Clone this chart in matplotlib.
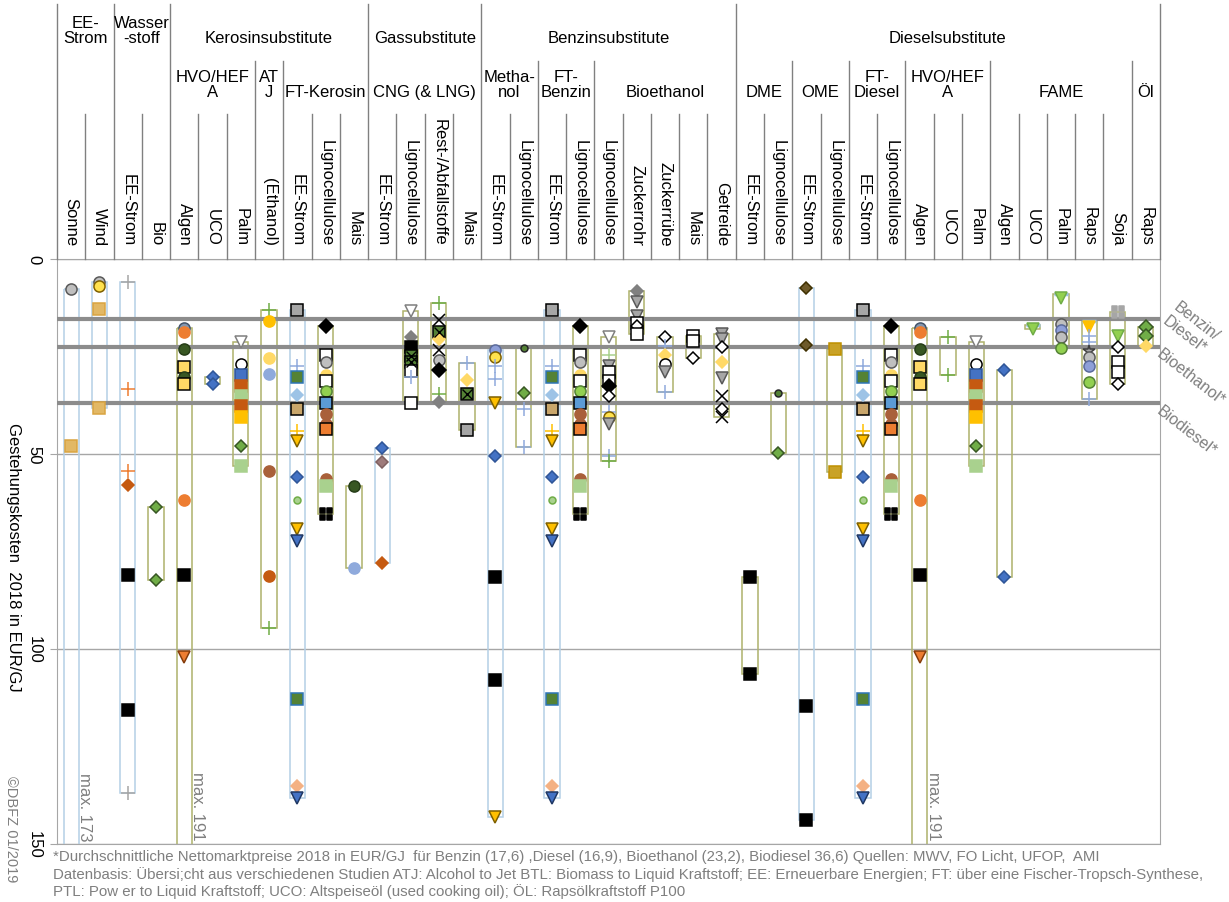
import matplotlib.pyplot as plt
from matplotlib.patches import Rectangle
from matplotlib.path import Path

plt.rcParams['font.family'] = ['Liberation Sans', 'DejaVu Sans']

# ---- header structure ----
top_groups = [("EE-\nStrom", 2), ("Wasser\n-stoff", 2), ("Kerosinsubstitute", 7),
              ("Gassubstitute", 4), ("Benzinsubstitute", 9), ("Dieselsubstitute", 15)]
mid_groups = [("", 2), ("", 2), ("HVO/HEF\nA", 3), ("AT\nJ", 1), ("FT-Kerosin", 3),
              ("CNG (& LNG)", 4), ("Metha-\nnol", 2), ("FT-\nBenzin", 2), ("Bioethanol", 5),
              ("DME", 2), ("OME", 2), ("FT-\nDiesel", 2), ("HVO/HEF\nA", 3), ("FAME", 5), ("Öl", 1)]
leaf_labels = ["Sonne", "Wind", "EE-Strom", "Bio", "Algen", "UCO", "Palm", "(Ethanol)",
               "EE-Strom", "Lignocellulose", "Mais", "EE-Strom", "Lignocellulose",
               "Rest-/Abfallstoffe", "Mais", "EE-Strom", "Lignocellulose", "EE-Strom",
               "Lignocellulose", "Lignocellulose", "Zuckerrohr", "Zuckerrübe", "Mais",
               "Getreide", "EE-Strom", "Lignocellulose", "EE-Strom", "Lignocellulose",
               "EE-Strom", "Lignocellulose", "Algen", "UCO", "Palm", "Algen", "UCO",
               "Palm", "Raps", "Soja", "Raps"]

# ---- values (EUR/GJ) and study ids per pathway ----
sonne = ([7.7, 48.0], [1, 3])
wind = ([5.8, 6.9, 12.8, 38.3], [1, 2, 3, 3])
h2_strom = ([5.9, 33.3, 54.4, 58.0, 81.0, 115.6, 137.0], [4, 5, 5, 6, 7, 7, 4])
h2_bio = ([63.6, 82.3], [8, 8])
hvo_algen = ([17.8, 18.7, 23.0, 27.8, 30.3, 32.0, 61.8, 81.0, 102.0], [9, 10, 11, 12, 11, 12, 10, 7, 13])
hvo_uco = ([30.3, 32.0], [14, 14])
hvo_palm = ([21.3, 27.0, 29.7, 32.5, 35.0, 37.6, 40.6, 47.9, 53.0], [15, 16, 17, 18, 19, 18, 20, 8, 19])
atj = ([13.0, 15.8, 25.4, 29.5, 54.4, 81.2, 94.6], [21, 22, 23, 24, 25, 60, 21])
ft_strom = ([13.0, 27.4, 30.3, 34.9, 38.5, 44.0, 46.7, 56.0, 61.8, 69.2, 72.2, 112.8, 135.0, 138.2],
            [26, 27, 28, 29, 30, 31, 32, 14, 33, 32, 34, 28, 35, 34])
ft_ligno = ([17.3, 24.6, 26.5, 29.7, 31.3, 33.9, 36.8, 39.7, 42.3, 43.6, 56.4, 58.2, 65.4],
            [36, 37, 1, 23, 37, 38, 39, 25, 25, 40, 25, 19, 41])
ft_mais = ([58.2, 79.3], [11, 24])
cng_strom = ([48.5, 52.0, 78.0], [14, 42, 6])
cng_ligno = ([13.3, 20.0, 22.5, 24.9, 26.5, 28.6, 30.3, 36.8], [15, 43, 7, 44, 44, 37, 27, 37])
cng_rest = ([11.3, 15.6, 18.8, 20.4, 23.4, 26.0, 28.5, 34.6, 36.6], [21, 45, 44, 46, 45, 1, 36, 21, 43])
cng_mais = ([26.7, 31.0, 34.7, 43.9], [27, 46, 44, 26])
meoh_strom = ([23.3, 25.0, 27.5, 30.8, 36.8, 50.5, 81.5, 107.9, 143.0], [47, 2, 27, 27, 32, 14, 7, 7, 32])
meoh_ligno = ([22.9, 34.4, 38.5, 48.2], [48, 8, 27, 27])
etoh_ligno = ([20.0, 24.6, 27.4, 28.9, 31.3, 32.5, 35.1, 39.3, 40.6, 42.3, 50.5, 51.8],
              [15, 51, 49, 37, 37, 36, 50, 27, 2, 49, 27, 21])
etoh_rohr = ([8.1, 11.0, 14.5, 16.3, 17.3, 19.2], [43, 49, 49, 37, 50, 37])
etoh_ruebe = ([20.0, 22.2, 24.6, 27.0, 29.0, 34.1], [50, 27, 46, 16, 49, 27])
etoh_mais = ([19.8, 21.0, 25.4], [37, 37, 50])
etoh_getreide = ([19.2, 20.5, 22.6, 26.4, 30.5, 35.1, 38.5, 40.6], [49, 49, 50, 46, 49, 45, 50, 45])
dme_strom = ([81.5, 106.4], [7, 7])
dme_ligno = ([34.4, 49.7], [48, 8])
ome_strom = ([7.4, 22.0, 114.6, 143.8], [52, 52, 7, 7])
ome_ligno = ([23.2, 54.6], [53, 53])
hvo_uco_d = ([20.0, 29.7], [21, 21])
fame_algen = ([28.4, 81.5], [14, 14])
fame_uco = ([16.9, 18.0], [54, 55])
fame_palm = ([9.0, 10.0, 16.7, 18.2, 19.9, 22.8], [54, 55, 1, 47, 1, 38])
fame_raps = ([15.9, 17.5, 19.8, 21.4, 23.6, 25.0, 27.4, 31.5, 35.9], [54, 56, 27, 27, 57, 1, 47, 38, 27])
fame_soja = ([13.6, 19.8, 22.6, 26.4, 29.0, 32.0], [58, 55, 50, 37, 37, 50])
oel_raps = ([17.5, 19.8, 22.3], [59, 59, 46])

columns = [sonne, wind, h2_strom, h2_bio, hvo_algen, hvo_uco, hvo_palm, atj, ft_strom, ft_ligno,
           ft_mais, cng_strom, cng_ligno, cng_rest, cng_mais, meoh_strom, meoh_ligno, ft_strom,
           ft_ligno, etoh_ligno, etoh_rohr, etoh_ruebe, etoh_mais, etoh_getreide, dme_strom,
           dme_ligno, ome_strom, ome_ligno, ft_strom, ft_ligno, hvo_algen, hvo_uco_d, hvo_palm,
           fame_algen, fame_uco, fame_palm, fame_raps, fame_soja, oel_raps]
# power based pathways get the blue range box
strom_cols = [0, 1, 2, 8, 11, 15, 17, 26, 28]
# maxima beyond the axis
range_max = {0: 173, 4: 191, 30: 191}

# average market prices 2018 (reference lines)
ref_vals = [15.3, 22.5, 36.8]
ref_labels = ["Benzin/\nDiesel*", "Bioethanol*", "Biodiesel*"]

footnote = ["*Durchschnittliche Nettomarktpreise 2018 in EUR/GJ  für Benzin (17,6) ,Diesel (16,9), Bioethanol (23,2), Biodiesel 36,6) Quellen: MWV, FO Licht, UFOP,  AMI",
            "Datenbasis: Übersi;cht aus verschiedenen Studien ATJ: Alcohol to Jet BTL: Biomass to Liquid Kraftstoff; EE: Erneuerbare Energien; FT: über eine Fischer-Tropsch-Synthese,",
            "PTL: Pow er to Liquid Kraftstoff; UCO: Altspeiseöl (used cooking oil); ÖL: Rapsölkraftstoff P100"]


def four_squares():
    verts, codes = [], []
    for cx, cy in [(-0.5, -0.5), (0.5, -0.5), (-0.5, 0.5), (0.5, 0.5)]:
        h = 0.42
        verts += [(cx-h, cy-h), (cx+h, cy-h), (cx+h, cy+h), (cx-h, cy+h), (cx-h, cy-h)]
        codes += [Path.MOVETO, Path.LINETO, Path.LINETO, Path.LINETO, Path.CLOSEPOLY]
    return Path(verts, codes)


SQ4 = four_squares()
# study id -> (marker, face, edge, size)
STYLE = {
    1: ('o', '#BFBFBF', '#595959', 8), 2: ('o', '#FFE14D', '#7F6000', 8),
    3: ('s', '#E2B865', '#D9A441', 9), 4: ('+', 'none', '#A6A6A6', 10),
    5: ('+', 'none', '#ED7D31', 10), 6: ('D', '#C55A11', '#C55A11', 6),
    7: ('s', 'black', 'black', 8), 8: ('D', '#70AD47', '#375623', 6),
    9: ('o', '#8497B0', '#44546A', 8), 10: ('o', '#ED7D31', '#ED7D31', 8),
    11: ('o', '#385723', '#263D18', 8), 12: ('s', '#FFD966', 'black', 8),
    13: ('v', '#ED7D31', '#843C0C', 8), 14: ('D', '#4472C4', '#2F5597', 6),
    15: ('v', 'white', '#7F7F7F', 9), 16: ('o', 'white', 'black', 8),
    17: ('s', '#4472C4', '#2F5597', 9), 18: ('s', '#C55A11', '#C55A11', 9),
    19: ('s', '#A9D18E', '#A9D18E', 9), 20: ('s', '#FFC000', '#FFC000', 9),
    21: ('+', 'none', '#70AD47', 10), 22: ('o', '#FFC000', '#FFC000', 8),
    23: ('o', '#FFD966', '#FFD966', 8), 24: ('o', '#8FAADC', '#8FAADC', 8),
    25: ('o', '#A9603A', '#A9603A', 8), 26: ('s', '#A6A6A6', 'black', 9),
    27: ('+', 'none', '#8FAADC', 10), 28: ('s', '#548235', '#2E75B6', 9),
    29: ('D', '#9DC3E6', '#9DC3E6', 6), 30: ('s', '#C9A66B', 'black', 8),
    31: ('+', 'none', '#FFC000', 10), 32: ('v', '#FFC000', '#7F6000', 8),
    33: ('o', '#A9D18E', '#70AD47', 5), 34: ('v', '#4472C4', '#203864', 8),
    35: ('D', '#F4B183', '#F4B183', 6), 36: ('D', 'black', 'black', 7),
    37: ('s', 'white', 'black', 9), 38: ('o', '#92D050', '#548235', 8),
    39: ('s', '#5B9BD5', 'black', 8), 40: ('s', '#ED7D31', 'black', 8),
    41: (SQ4, 'black', 'black', 9), 42: ('D', '#9E7B7B', '#7F6060', 6),
    43: ('D', '#808080', '#808080', 6), 44: ('s', '#548235', 'black', 9),
    45: ('x', 'none', 'black', 8), 46: ('D', '#FFD966', '#FFD966', 6),
    47: ('o', '#8E9FD8', '#5B6B9B', 8), 48: ('o', '#548235', '#262626', 5),
    49: ('v', '#A6A6A6', '#595959', 8), 50: ('D', 'white', 'black', 6),
    51: ('+', 'none', '#A9D18E', 10), 52: ('D', '#6E5A2A', '#3F3000', 6),
    53: ('s', '#C9A227', '#BF9000', 9), 54: ('_', 'none', '#9DC3E6', 10),
    55: ('v', '#92D050', '#70AD47', 8), 56: ('v', '#FFC000', '#FFC000', 8),
    57: ('*', '#A6A6A6', '#404040', 9), 58: (SQ4, '#A6A6A6', '#A6A6A6', 9),
    59: ('D', '#70AD47', '#375623', 7), 60: ('o', '#C55A11', '#C55A11', 8),
}

W, H = 1229, 903
fig = plt.figure(figsize=(W / 100, H / 100), dpi=100)
ax = fig.add_axes([57 / W, 58 / H, 1103 / W, 585 / H])
n = len(leaf_labels)
ax.set_xlim(0, n)
ax.set_ylim(150, 0)

grid_c = '#A6A6A6'
for s in ax.spines.values():
    s.set_color(grid_c)
ax.set_xticks([])
ax.set_yticks([0, 50, 100, 150])
ax.set_yticklabels(['0', '50', '100', '150'], rotation=270, va='center', fontsize=12)
ax.tick_params(axis='y', length=5, color=grid_c, pad=6)
ax.yaxis.grid(True, color=grid_c, lw=1)
ax.set_axisbelow(True)

# reference lines
for v in ref_vals:
    ax.axhline(v, color='#8C8C8C', lw=3, zorder=3)
offs = [(20, 20), (3, 1), (3, 0)]
for v, lab, (dx, dy) in zip(ref_vals, ref_labels, offs):
    ax.annotate(lab, xy=(1.0, v), xycoords=('axes fraction', 'data'), xytext=(dx, dy),
                textcoords='offset pixels', rotation=-38, rotation_mode='anchor',
                ha='left', va='top', color='#7F7F7F', fontsize=11.5, annotation_clip=False)

# range boxes and points
for i, (vals, src) in enumerate(columns):
    x = i + 0.5
    lo = min(vals)
    hi = range_max.get(i, max(vals))
    ec = '#B4D0E6' if i in strom_cols else '#AEB26B'
    ax.add_patch(Rectangle((x - 0.27, lo), 0.54, hi - lo, fill=False, ec=ec, lw=1.1, zorder=2))
    for v, s in zip(vals, src):
        m, fc, mec, ms = STYLE[s]
        ax.plot([x], [v], marker=m, ms=ms, mfc=fc, mec=mec, mew=2.5 if m == '_' else 1.1,
                ls='none', zorder=4)
        if s == 44:
            ax.plot([x], [v], marker='x', ms=ms * 0.8, mec='black', mew=1, ls='none', zorder=5)
    if i in range_max:
        ax.text(x + 0.22, 149, "max. %d" % range_max[i], rotation=270, ha='left', va='bottom',
                color='#7F7F7F', fontsize=12)

# header table
hx = fig.add_axes([57 / W, (H - 260) / H, 1103 / W, 255 / H])
hx.set_xlim(0, n)
hx.set_ylim(0, 255)
hx.axis('off')
line_c = '#808080'
y_mid, y_leaf = 260 - 62, 260 - 115

top_b, mid_b = [0], [0]
for _, k in top_groups:
    top_b.append(top_b[-1] + k)
for _, k in mid_groups:
    mid_b.append(mid_b[-1] + k)
for b in range(n + 1):
    if b in top_b:
        yt = 255
    elif b in mid_b:
        yt = y_mid
    else:
        yt = y_leaf
    hx.plot([b, b], [0, yt], color=line_c, lw=1, clip_on=False)

for (lab, k), a in zip(top_groups, top_b):
    hx.text(a + k / 2, 260 - 43, lab, ha='center', va='baseline', fontsize=12,
            linespacing=1.0, multialignment='center')
for (lab, k), a in zip(mid_groups, mid_b):
    if lab:
        hx.text(a + k / 2, 260 - 97, lab, ha='center', va='baseline', fontsize=12,
                linespacing=1.0, multialignment='center')
for i, lab in enumerate(leaf_labels):
    hx.text(i + 0.5, 14, lab, rotation=270, ha='center', va='bottom', fontsize=12)

# axis label, copyright, footnote
fig.text(13 / W, 1 - 557 / H, "Gestehungskosten  2018 in EUR/GJ", rotation=270,
         ha='center', va='center', fontsize=12)
fig.text(11 / W, 1 - 829 / H, "©DBFZ 01/2019", rotation=270, ha='center', va='center',
         fontsize=10.5, color='#7F7F7F')
for k, line in enumerate(footnote):
    fig.text(53 / W, 1 - (857 + 17.5 * k) / H, line, ha='left', va='center',
             fontsize=10.8, color='#7F7F7F')

fig.savefig('out.png', dpi=100)
